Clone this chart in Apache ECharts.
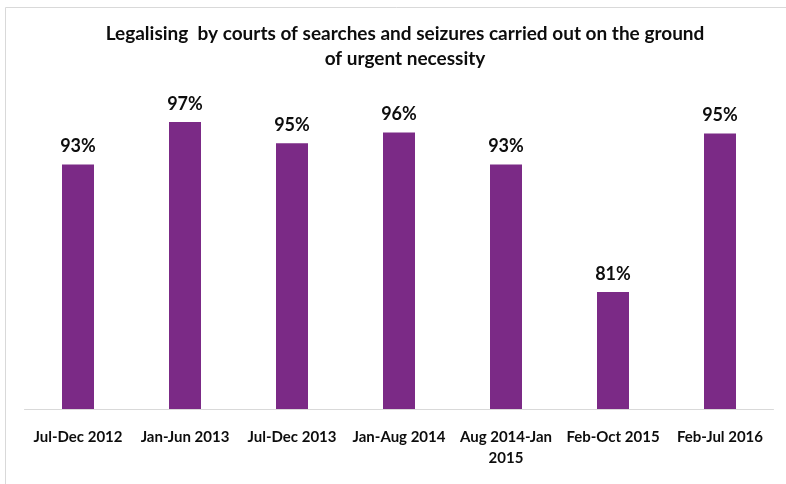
<!DOCTYPE html>
<html>
<head>
<meta charset="utf-8">
<script src="https://cdn.jsdelivr.net/npm/echarts@6/dist/echarts.min.js"></script>
<style>
  html, body { margin: 0; padding: 0; background: #fff; }
  #chart { width: 786px; height: 484px; }
</style>
</head>
<body>
<div id="chart"></div>
<script>
const periods = ['Jul-Dec 2012', 'Jan-Jun 2013', 'Jul-Dec 2013', 'Jan-Aug 2014', 'Aug 2014-Jan\n2015', 'Feb-Oct 2015', 'Feb-Jul 2016']
const shares = [93, 97, 95, 96, 93, 81, 95.9]
const shareLabels = ['93%', '97%', '95%', '96%', '93%', '81%', '95%']

const chart = echarts.init(document.getElementById('chart'))
const font = 'Lato, "Open Sans", sans-serif'

chart.setOption({
  animation: false,
  graphic: [{
    type: 'rect',
    shape: { x: 5.5, y: 7.5, width: 900, height: 600 },
    style: { fill: 'none', stroke: '#d9d9d9', lineWidth: 1 },
    silent: true
  }],
  title: {
    text: 'Legalising  by courts of searches and seizures carried out on the ground\nof urgent necessity',
    left: 400,
    textAlign: 'center',
    top: 16,
    textStyle: {
      fontFamily: font,
      fontWeight: 'bold',
      fontSize: 19,
      lineHeight: 25,
      color: '#0d0d0d'
    }
  },
  grid: { left: 24.5, right: 12.5, top: 90, bottom: 75 },
  xAxis: {
    type: 'category',
    data: periods,
    axisLine: { lineStyle: { color: '#d9d9d9', width: 1 } },
    axisTick: { show: false },
    axisLabel: {
      interval: 0,
      margin: 18,
      fontFamily: font,
      fontWeight: 'bold',
      fontSize: 15,
      lineHeight: 21,
      color: '#0d0d0d'
    }
  },
  yAxis: {
    type: 'value',
    min: 70,
    max: 100,
    show: false
  },
  series: [{
    type: 'bar',
    data: shares,
    barWidth: 32,
    itemStyle: { color: '#7b2a86' },
    label: {
      show: true,
      position: 'top',
      distance: 9,
      formatter: p => shareLabels[p.dataIndex],
      fontFamily: font,
      fontWeight: 'bold',
      fontSize: 18,
      color: '#0d0d0d'
    }
  }]
})
</script>
</body>
</html>
